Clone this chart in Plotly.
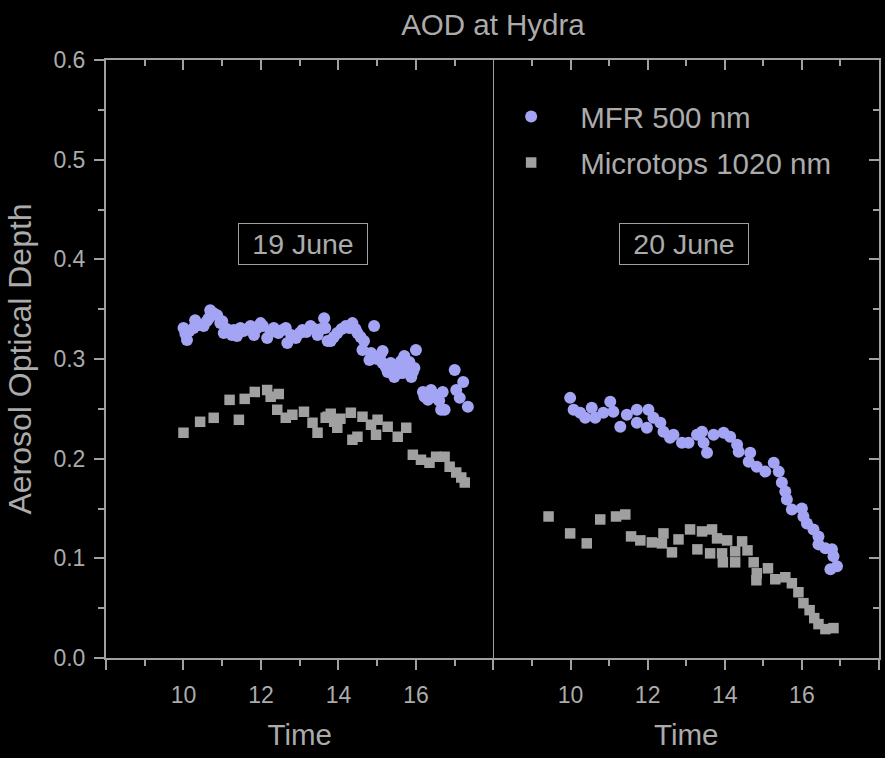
import plotly.graph_objects as go

# ---------------- data ----------------
# 19 June (left panel)
mfr19_t = [10.00, 10.05, 10.09, 10.15, 10.26, 10.30, 10.40, 10.52, 10.60, 10.65, 10.69, 10.78, 10.87, 10.95,
           11.00, 11.04, 11.12, 11.25, 11.30, 11.38, 11.47, 11.55, 11.65, 11.73, 11.82, 11.90, 11.99, 12.05,
           12.16, 12.25, 12.33, 12.45, 12.55, 12.64, 12.68, 12.78, 12.90, 13.00, 13.07, 13.17, 13.28, 13.38,
           13.46, 13.55, 13.63, 13.66, 13.72, 13.80, 13.88, 13.97, 14.08, 14.19, 14.28, 14.36, 14.44, 14.49,
           14.57, 14.62, 14.66, 14.80, 14.84, 14.92, 15.00, 15.08, 15.14, 15.14, 15.22, 15.27, 15.35, 15.44,
           15.48, 15.53, 15.58, 15.62, 15.66, 15.70, 15.75, 15.83, 15.88, 15.92, 15.96, 16.00, 16.18, 16.22,
           16.31, 16.35, 16.39, 16.45, 16.52, 16.60, 16.65, 16.69, 16.74, 17.00, 17.04, 17.13, 17.22, 17.34]
mfr19_aod = [0.331, 0.325, 0.319, 0.328, 0.331, 0.339, 0.334, 0.333, 0.338, 0.341, 0.349, 0.346, 0.344, 0.336,
             0.338, 0.326, 0.330, 0.324, 0.329, 0.323, 0.331, 0.328, 0.330, 0.333, 0.324, 0.331, 0.336, 0.333,
             0.321, 0.327, 0.331, 0.326, 0.329, 0.331, 0.316, 0.324, 0.321, 0.326, 0.329, 0.327, 0.333, 0.330,
             0.324, 0.330, 0.341, 0.331, 0.318, 0.318, 0.322, 0.326, 0.330, 0.333, 0.331, 0.336, 0.330, 0.326,
             0.322, 0.309, 0.318, 0.299, 0.306, 0.333, 0.300, 0.304, 0.308, 0.296, 0.292, 0.287, 0.296, 0.282,
             0.290, 0.294, 0.286, 0.298, 0.286, 0.303, 0.289, 0.297, 0.282, 0.287, 0.291, 0.309, 0.267, 0.262,
             0.259, 0.266, 0.269, 0.262, 0.264, 0.258, 0.249, 0.267, 0.249, 0.289, 0.269, 0.261, 0.277, 0.252]

mt19_t = [10.00, 10.43, 10.78, 11.19, 11.43, 11.58, 11.84, 12.16, 12.25, 12.42, 12.46, 12.64, 12.81, 13.11,
          13.33, 13.46, 13.67, 13.72, 13.80, 13.89, 13.97, 14.05, 14.32, 14.36, 14.49, 14.62, 14.84, 14.97,
          15.01, 15.27, 15.53, 15.75, 15.92, 16.13, 16.35, 16.52, 16.74, 16.87, 17.04, 17.17, 17.26]
mt19_aod = [0.226, 0.237, 0.241, 0.259, 0.239, 0.260, 0.267, 0.269, 0.262, 0.249, 0.265, 0.241, 0.244, 0.247,
            0.236, 0.226, 0.241, 0.242, 0.245, 0.237, 0.231, 0.240, 0.246, 0.219, 0.222, 0.242, 0.234, 0.224,
            0.239, 0.232, 0.222, 0.231, 0.204, 0.199, 0.196, 0.202, 0.202, 0.192, 0.186, 0.181, 0.176]

# 20 June (right panel)
mfr20_t = [9.99, 10.08, 10.25, 10.38, 10.55, 10.64, 10.85, 11.03, 11.11, 11.29, 11.46, 11.72, 11.72, 11.98,
           12.02, 12.15, 12.33, 12.41, 12.58, 12.67, 12.89, 13.06, 13.28, 13.41, 13.45, 13.54, 13.71, 13.97,
           14.14, 14.32, 14.36, 14.62, 14.66, 14.83, 15.05, 15.27, 15.40, 15.48, 15.57, 15.61, 15.74, 16.00,
           16.04, 16.13, 16.30, 16.43, 16.43, 16.61, 16.74, 16.78, 16.82, 16.91]
mfr20_aod = [0.261, 0.249, 0.246, 0.241, 0.251, 0.241, 0.246, 0.257, 0.247, 0.232, 0.244, 0.249, 0.236, 0.231,
             0.249, 0.241, 0.236, 0.227, 0.221, 0.224, 0.216, 0.216, 0.224, 0.227, 0.216, 0.206, 0.224, 0.226,
             0.222, 0.214, 0.207, 0.197, 0.206, 0.192, 0.187, 0.196, 0.187, 0.176, 0.167, 0.159, 0.149, 0.150,
             0.142, 0.135, 0.129, 0.122, 0.114, 0.110, 0.089, 0.109, 0.102, 0.092]

mt20_t = [9.43, 9.99, 10.42, 10.77, 11.18, 11.42, 11.57, 11.81, 12.11, 12.37, 12.41, 12.63, 12.80, 13.10,
          13.29, 13.41, 13.62, 13.67, 13.80, 13.93, 13.95, 14.06, 14.27, 14.27, 14.45, 14.59, 14.75, 14.82,
          14.83, 15.12, 15.31, 15.57, 15.74, 15.91, 16.04, 16.20, 16.32, 16.43, 16.61, 16.82]
mt20_aod = [0.142, 0.125, 0.115, 0.139, 0.142, 0.144, 0.122, 0.118, 0.116, 0.115, 0.125, 0.106, 0.119, 0.129,
            0.109, 0.127, 0.105, 0.129, 0.120, 0.105, 0.096, 0.118, 0.107, 0.096, 0.117, 0.108, 0.096, 0.078,
            0.085, 0.090, 0.079, 0.081, 0.075, 0.066, 0.055, 0.048, 0.040, 0.034, 0.029, 0.030]

x_tickvals = [8, 10, 12, 14, 16, 18]
x_ticktext = ["", "10", "12", "14", "16", ""]
x_minor = [9, 11, 13, 15, 17]

# ---------------- style ----------------
FONT = "Liberation Sans, Arial, sans-serif"
TXT = "#ababab"
AX = "#a0a0a0"
MFR_C = "#a4a4f4"
MT_C = "#a0a0a0"

fig = go.Figure()

fig.add_trace(go.Scatter(x=mfr19_t, y=mfr19_aod, mode="markers", name="MFR 500 nm",
                         marker=dict(symbol="circle", size=12, color=MFR_C),
                         xaxis="x", yaxis="y", legend="legend", legendgroup="mfr"))
fig.add_trace(go.Scatter(x=mt19_t, y=mt19_aod, mode="markers", name="Microtops 1020 nm",
                         marker=dict(symbol="square", size=10.5, color=MT_C),
                         xaxis="x", yaxis="y", legend="legend2", legendgroup="mt"))
fig.add_trace(go.Scatter(x=mfr20_t, y=mfr20_aod, mode="markers", name="MFR 500 nm",
                         marker=dict(symbol="circle", size=12, color=MFR_C),
                         xaxis="x2", yaxis="y", showlegend=False, legendgroup="mfr"))
fig.add_trace(go.Scatter(x=mt20_t, y=mt20_aod, mode="markers", name="Microtops 1020 nm",
                         marker=dict(symbol="square", size=10.5, color=MT_C),
                         xaxis="x2", yaxis="y", showlegend=False, legendgroup="mt"))

# empty helper traces so the overlay frame axes are drawn
for xa, ya in [("x3", "y"), ("x4", "y"), ("x2", "y2"), ("x", "y3")]:
    fig.add_trace(go.Scatter(x=[], y=[], mode="markers", xaxis=xa, yaxis=ya,
                             showlegend=False, hoverinfo="skip"))

SPLIT = 0.5012

xcommon = dict(range=[8, 18], showgrid=False, zeroline=False, showline=True, linecolor=AX, linewidth=2,
               tickvals=x_tickvals, ticktext=x_ticktext, ticks="outside", ticklen=10, tickwidth=2,
               tickcolor=AX, tickfont=dict(family=FONT, size=23, color=TXT),
               minor=dict(tickvals=x_minor, ticks="outside", ticklen=6, tickwidth=2, tickcolor=AX),
               title=dict(text="Time", font=dict(family=FONT, size=29.5, color=TXT), standoff=18),
               ticklabelstandoff=5)

xtop = dict(range=[8, 18], showgrid=False, zeroline=False, showline=True, linecolor=AX, linewidth=2,
            side="top", anchor="y", tickvals=x_tickvals, ticks="inside", ticklen=10, tickwidth=2,
            tickcolor=AX, showticklabels=False,
            minor=dict(tickvals=x_minor, ticks="inside", ticklen=6, tickwidth=2, tickcolor=AX))

fig.update_layout(
    width=885, height=758,
    paper_bgcolor="black", plot_bgcolor="black",
    margin=dict(l=106, r=6, t=60, b=100),
    font=dict(family=FONT, color=TXT),
    title=dict(text="AOD at Hydra", x=0.557, xanchor="center", y=0.967, yanchor="middle",
               font=dict(family=FONT, size=29.5, color=TXT)),
    xaxis=dict(domain=[0, SPLIT], anchor="y", **xcommon),
    xaxis2=dict(domain=[SPLIT, 1], anchor="y", **xcommon),
    xaxis3=dict(overlaying="x", **xtop),
    xaxis4=dict(overlaying="x2", **xtop),
    yaxis=dict(range=[0, 0.6], domain=[0, 1], anchor="x", showgrid=False, zeroline=False, showline=True,
               linecolor=AX, linewidth=2, tick0=0, dtick=0.1, tickformat=".1f", ticks="outside",
               ticklen=10, tickwidth=2, tickcolor=AX, tickfont=dict(family=FONT, size=23, color=TXT),
               minor=dict(dtick=0.05, ticks="outside", ticklen=6, tickwidth=2, tickcolor=AX),
               title=dict(text="Aerosol Optical Depth", font=dict(family=FONT, size=32, color=TXT),
                          standoff=12),
               ticklabelstandoff=4),
    yaxis2=dict(range=[0, 0.6], overlaying="y", anchor="x2", side="right", showgrid=False, zeroline=False,
                showline=True, linecolor=AX, linewidth=2, tick0=0, dtick=0.1, ticks="inside", ticklen=10,
                tickwidth=2, tickcolor=AX, showticklabels=False,
                minor=dict(dtick=0.05, ticks="inside", ticklen=6, tickwidth=2, tickcolor=AX)),
    yaxis3=dict(range=[0, 0.6], overlaying="y", anchor="x", side="right", showgrid=False, zeroline=False,
                showline=True, linecolor=AX, linewidth=1, ticks="", showticklabels=False),
    legend=dict(x=0.4866, y=0.905, xanchor="left", yanchor="middle", bgcolor="rgba(0,0,0,0)",
                itemwidth=88, font=dict(family=FONT, size=29.5, color=TXT)),
    legend2=dict(x=0.4866, y=0.828, xanchor="left", yanchor="middle", bgcolor="rgba(0,0,0,0)",
                 itemwidth=88, font=dict(family=FONT, size=29.5, color=TXT)),
    annotations=[
        dict(text="19 June", x=13.09, y=0.4155, xref="x", yref="y", showarrow=False,
             font=dict(family=FONT, size=28.5, color=TXT), bordercolor=AX, borderwidth=1,
             borderpad=1, width=126, height=38),
        dict(text="20 June", x=12.94, y=0.415, xref="x2", yref="y", showarrow=False,
             font=dict(family=FONT, size=28.5, color=TXT), bordercolor=AX, borderwidth=1,
             borderpad=1, width=126, height=38),
    ],
)

fig.write_html("out.html")
